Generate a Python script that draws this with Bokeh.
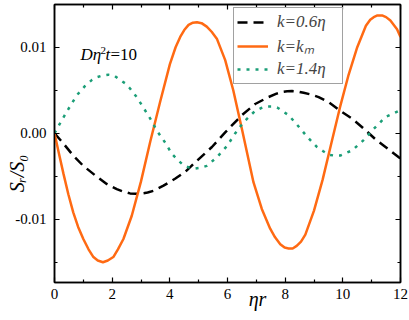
from bokeh.plotting import figure
from bokeh.models import (FixedTicker, LinearAxis, Legend, LegendItem, Label,
                          NumeralTickFormatter, CustomJSTickFormatter, Range1d)
from bokeh.embed import file_html
from bokeh.resources import INLINE

# ---- data ----
x_k06 = [0, 0.31, 0.65, 1.0, 1.41, 1.81, 2.16, 2.4, 2.62, 2.83, 3.03, 3.23, 3.43, 3.78,
         4.18, 4.53, 4.94, 5.46, 5.92, 6.5, 6.96, 7.42, 7.7, 7.89, 8.07, 8.24, 8.44,
         8.64, 8.9, 9.16, 9.51, 9.91, 10.32, 10.67, 11.13, 11.48, 11.94, 12.0]
y_k06 = [0, -0.0012, -0.0026, -0.0038, -0.0049, -0.0059, -0.0065, -0.0068, -0.0070,
         -0.00705, -0.0070, -0.0069, -0.0067, -0.0061, -0.0053, -0.0045, -0.0032,
         -0.0016, 0.0001, 0.0021, 0.0034, 0.0042, 0.0046, 0.0048, 0.00488, 0.0049,
         0.00485, 0.0047, 0.0045, 0.0042, 0.0036, 0.0026, 0.0017, 0.0007, -0.0007,
         -0.0016, -0.0028, -0.0029]

x_km = [0, 0.15, 0.31, 0.48, 0.65, 0.82, 1.0, 1.18, 1.35, 1.5, 1.68, 1.85, 2.04, 2.2,
        2.39, 2.68, 3.0, 3.32, 3.66, 4.0, 4.2, 4.36, 4.5, 4.65, 4.8, 4.94, 5.1, 5.28,
        5.45, 5.63, 5.92, 6.2, 6.5, 6.9, 7.19, 7.48, 7.65, 7.83, 7.98, 8.12, 8.26, 8.4,
        8.55, 8.7, 9.0, 9.3, 9.62, 9.9, 10.2, 10.5, 10.8, 10.95, 11.07, 11.2, 11.36,
        11.5, 11.65, 11.88, 12.0]
y_km = [0, -0.0023, -0.0047, -0.0071, -0.0092, -0.0109, -0.0123, -0.0135, -0.0144,
        -0.0148, -0.0150, -0.0148, -0.0144, -0.0135, -0.0123, -0.0096, -0.0056,
        -0.0010, 0.0036, 0.0080, 0.0100, 0.0112, 0.0120, 0.0126, 0.01285, 0.0129,
        0.0128, 0.0124, 0.0118, 0.0110, 0.0085, 0.0050, 0.0005, -0.0057, -0.0088,
        -0.0111, -0.0121, -0.0129, -0.0133, -0.0134, -0.0134, -0.0131, -0.0126,
        -0.0118, -0.0090, -0.0054, -0.0009, 0.0030, 0.0068, 0.0100, 0.0125, 0.0132,
        0.0135, 0.0137, 0.0137, 0.0135, 0.0131, 0.0121, 0.0112]

x_k14 = [0, 0.25, 0.48, 0.77, 1.06, 1.3, 1.46, 1.66, 1.87, 2.07, 2.27, 2.45, 2.62, 2.85,
         3.08, 3.32, 3.55, 3.84, 4.07, 4.27, 4.47, 4.68, 4.88, 5.08, 5.28, 5.63, 5.98,
         6.27, 6.56, 6.96, 7.15, 7.31, 7.52, 7.72, 8.12, 8.41, 8.76, 9.10, 9.32, 9.51,
         9.71, 9.91, 10.32, 10.72, 11.07, 11.48, 11.94, 12.0]
y_k14 = [0, 0.0015, 0.0028, 0.0044, 0.0055, 0.0062, 0.0065, 0.0067, 0.0068, 0.0067,
         0.0062, 0.0058, 0.0052, 0.0042, 0.0030, 0.0017, 0.0003, -0.0011, -0.0024,
         -0.0031, -0.0037, -0.0040, -0.0041, -0.0040, -0.0038, -0.0028, -0.0015, 0.0000,
         0.0013, 0.0026, 0.0029, 0.0031, 0.0031, 0.0030, 0.0021, 0.0010, -0.0004,
         -0.0016, -0.0021, -0.0025, -0.0026, -0.0026, -0.0020, -0.0008, 0.0005, 0.0019,
         0.0026, 0.0027]

x_major = [0, 2, 4, 6, 8, 10, 12]
x_minor = [1, 3, 5, 7, 9, 11]
y_major = [-0.01, 0.0, 0.01]
y_minor = [-0.015, -0.005, 0.005, 0.015]

labels = ["k=0.6η", "k=kₘ", "k=1.4η"]
x_title = "\u00a0" * 12 + "ηr"
y_title = "Sᵣ/S₀" + "\u00a0" * 12

FONT = "Liberation Serif"

p = figure(width=409, height=320, x_range=Range1d(0, 12), y_range=Range1d(-0.01736, 0.01497),
           output_backend="svg", toolbar_location=None,
           min_border_left=54, min_border_right=9, min_border_top=4, min_border_bottom=38)
p.background_fill_color = "white"
p.border_fill_color = "white"
p.outline_line_color = "black"
p.outline_line_width = 1.5
p.xgrid.visible = False
p.ygrid.visible = False

xt = FixedTicker(ticks=x_major, minor_ticks=x_minor)
yt = FixedTicker(ticks=y_major, minor_ticks=y_minor)

def style(ax, show_labels=True):
    ax.axis_line_color = "black"
    ax.axis_line_width = 1.5
    ax.major_tick_line_color = "black"
    ax.minor_tick_line_color = "black"
    ax.major_tick_line_width = 1.2
    ax.minor_tick_line_width = 1.2
    ax.major_tick_in = 5
    ax.major_tick_out = 0
    ax.minor_tick_in = 3
    ax.minor_tick_out = 0
    ax.major_label_text_font = FONT
    ax.major_label_text_color = "black"
    ax.major_label_text_font_size = "15px"
    if not show_labels:
        ax.formatter = CustomJSTickFormatter(code="return ''")
        ax.major_label_text_font_size = "0px"
        ax.major_label_standoff = 0

xa = p.xaxis[0]
xa.ticker = xt
style(xa)
xa.major_label_standoff = 6
xa.axis_label = x_title
xa.axis_label_text_font = FONT
xa.axis_label_text_font_style = "italic"
xa.axis_label_text_font_size = "20px"
xa.axis_label_text_color = "black"
xa.axis_label_standoff = -14

ya = p.yaxis[0]
ya.ticker = yt
ya.formatter = NumeralTickFormatter(format="0.00")
style(ya)
ya.major_label_standoff = 8
ya.axis_label = y_title
ya.axis_label_text_font = FONT
ya.axis_label_text_font_style = "italic"
ya.axis_label_text_font_size = "20px"
ya.axis_label_text_color = "black"
ya.axis_label_standoff = -16

top = LinearAxis(ticker=xt)
style(top, False)
p.add_layout(top, "above")
right = LinearAxis(ticker=yt)
style(right, False)
p.add_layout(right, "right")

r1 = p.line(x_k06, y_k06, line_color="black", line_width=2.5, line_dash="10 6")
r2 = p.line(x_km, y_km, line_color="#FF6A13", line_width=2.5)
r3 = p.line(x_k14, y_k14, line_color="#1B9E77", line_width=2.5, line_dash="3 6")

legend = Legend(items=[LegendItem(label=labels[0], renderers=[r1]),
                       LegendItem(label=labels[1], renderers=[r2]),
                       LegendItem(label=labels[2], renderers=[r3])],
                location=(179, 198))
legend.border_line_color = "#444"
legend.border_line_width = 1.5
legend.background_fill_color = "white"
legend.background_fill_alpha = 1.0
legend.label_text_font = FONT
legend.label_text_font_style = "italic"
legend.label_text_font_size = "17px"
legend.glyph_width = 31
legend.glyph_height = 22
legend.label_height = 22
legend.label_width = 62
legend.label_standoff = 9
legend.padding = 3
legend.spacing = 1
legend.margin = 0
p.add_layout(legend)

def lab(text, x, y, size, style="normal"):
    p.add_layout(Label(x=x, y=y, x_units="screen", y_units="screen", text=text,
                       text_font=FONT, text_font_size=size, text_font_style=style,
                       text_color="black", text_align="left",
                       text_baseline="alphabetic"))

# annotation D eta^2 t = 10
lab("Dη", 26, 228, "17px", "italic")
lab("2", 46, 232, "11px")
lab("t", 51, 228, "17px", "italic")
lab("=10", 56, 228, "17px")

open("out.html", "w").write(file_html(p, INLINE))
